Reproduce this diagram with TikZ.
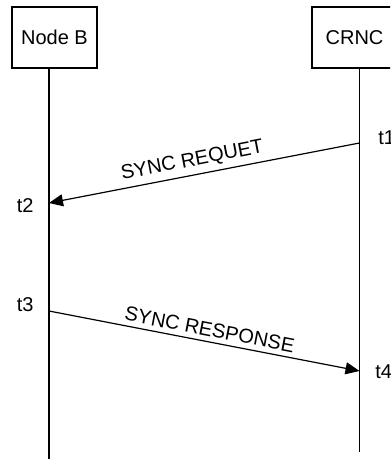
\documentclass[tikz,border=0pt]{standalone}
\usepackage{fontspec}
\setmainfont{Liberation Sans}
\usetikzlibrary{arrows.meta}
\begin{document}
\begin{tikzpicture}[x=0.5pt,y=-0.5pt,
  font=\fontsize{10pt}{12pt}\selectfont,
  entity/.style={draw,line width=0.6pt,minimum width=42.5pt,minimum height=30.5pt,inner sep=0pt},
  lifeline/.style={line width=0.6pt},
  msg/.style={line width=0.6pt,-{Triangle[length=7pt,width=6pt]}},
  msglabel/.style={midway,above,sloped,inner sep=2.3pt},
  tlabel/.style={inner sep=0pt}]
\useasboundingbox (0,0) rectangle (390,459);
\clip (0,0) rectangle (390,459);
\node[entity] (nodeB) at (54.5,37.5) {Node B};
\node[entity] (crnc) at (354.5,37.5) {CRNC};
\coordinate (bTop) at (49,68);
\coordinate (bBot) at (49,460);
\coordinate (cTop) at (359.5,68);
\coordinate (cBot) at (359.5,452);
\draw[lifeline] (bTop) -- (bBot);
\draw[lifeline] (cTop) -- (cBot);
\coordinate (e1) at (359.5,143);
\coordinate (e2) at (49,203);
\coordinate (e3) at (49,311);
\coordinate (e4) at (359.5,371);
\draw[msg] (e1) -- node[msglabel,pos=0.53] {SYNC REQUET} (e2);
\draw[msg] (e3) -- node[msglabel,pos=0.51] {SYNC RESPONSE} (e4);
\node[tlabel,anchor=west] (t1) at (378,138) {t1};
\node[tlabel,anchor=east] (t2) at (34,206) {t2};
\node[tlabel,anchor=east] (t3) at (34,305) {t3};
\node[tlabel,anchor=west] (t4) at (375,371.5) {t4};
\end{tikzpicture}
\end{document}
